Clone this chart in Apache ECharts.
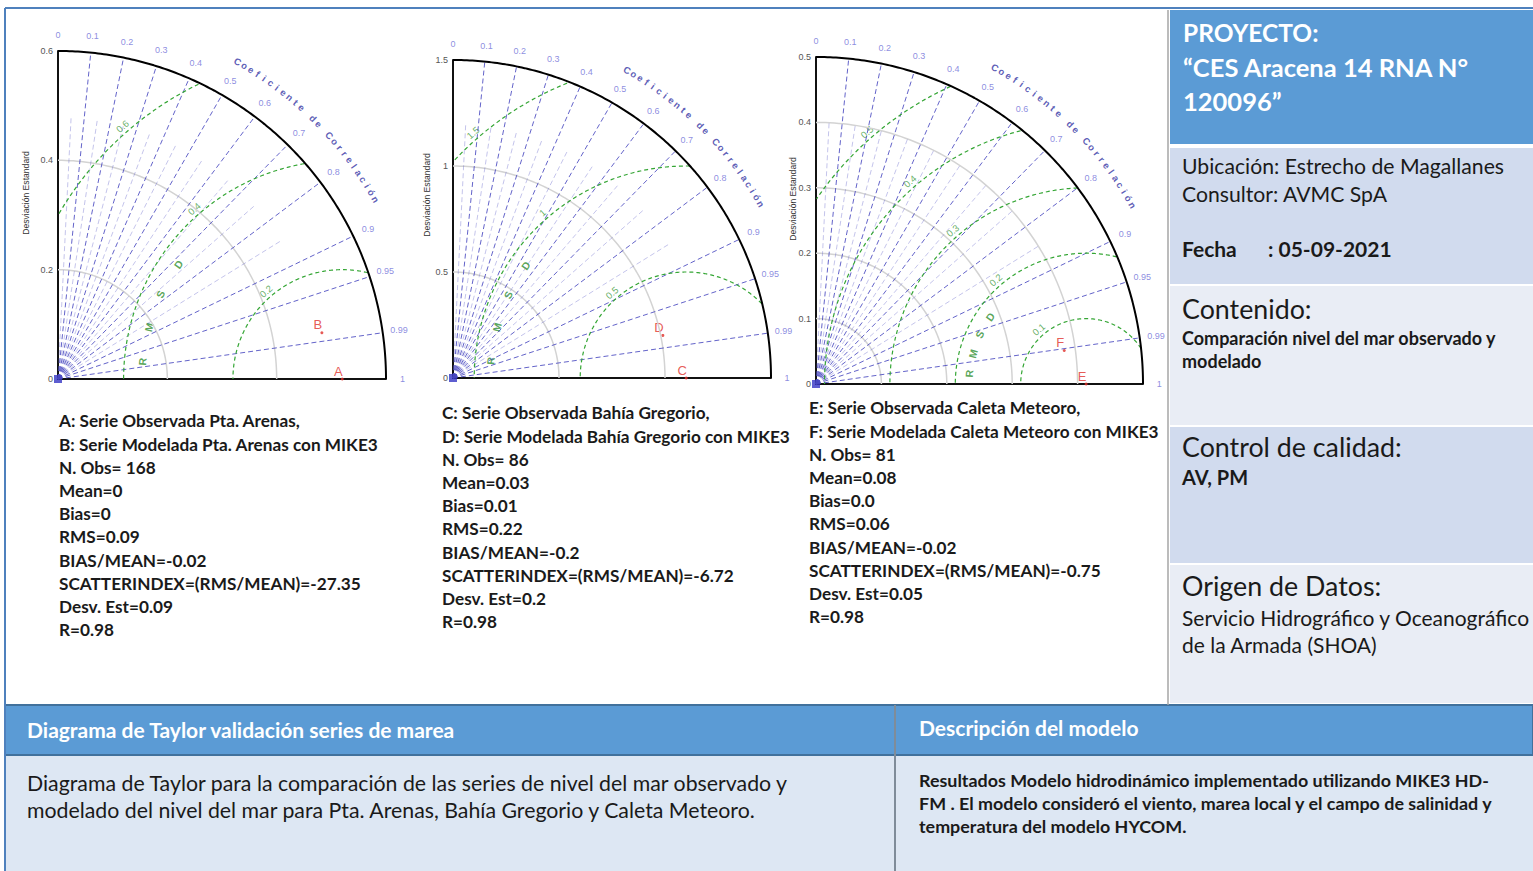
<!DOCTYPE html>
<html>
<head>
<meta charset="utf-8">
<script src="https://cdn.jsdelivr.net/npm/echarts@6/dist/echarts.min.js"></script>
<style>
  html, body { margin: 0; padding: 0; background: #fff; }
  #chart { width: 1533px; height: 871px; }
</style>
</head>
<body>
<div id="chart"></div>
<script>
// ---------- data ----------
const corrTicks = [0, 0.1, 0.2, 0.3, 0.4, 0.5, 0.6, 0.7, 0.8, 0.9, 0.95, 0.99, 1];
const corrMinor = [0.05, 0.15, 0.25, 0.35, 0.45, 0.55, 0.65, 0.75, 0.85];

// Pta. Arenas
const stdTicks1 = [0, 0.2, 0.4, 0.6];
const rmsTicks1 = [0.2, 0.4, 0.6];
const obsStd1 = 0.52;
const modStd1 = 0.49;
const modCorr1 = 0.985;
const names1 = ['A', 'B'];
const stats1 = [
  'A: Serie Observada Pta. Arenas,',
  'B: Serie Modelada Pta. Arenas con MIKE3',
  'N. Obs= 168', 'Mean=0', 'Bias=0', 'RMS=0.09', 'BIAS/MEAN=-0.02',
  'SCATTERINDEX=(RMS/MEAN)=-27.35', 'Desv. Est=0.09', 'R=0.98'
];

// Bahía Gregorio
const stdTicks2 = [0, 0.5, 1, 1.5];
const rmsTicks2 = [0.5, 1, 1.5];
const obsStd2 = 1.1;
const modStd2 = 1.01;
const modCorr2 = 0.98;
const names2 = ['C', 'D'];
const stats2 = [
  'C: Serie Observada Bahía Gregorio,',
  'D: Serie Modelada Bahía Gregorio con MIKE3',
  'N. Obs= 86', 'Mean=0.03', 'Bias=0.01', 'RMS=0.22', 'BIAS/MEAN=-0.2',
  'SCATTERINDEX=(RMS/MEAN)=-6.72', 'Desv. Est=0.2', 'R=0.98'
];

// Caleta Meteoro
const stdTicks3 = [0, 0.1, 0.2, 0.3, 0.4, 0.5];
const rmsTicks3 = [0.1, 0.2, 0.3, 0.4, 0.5];
const obsStd3 = 0.413;
const modStd3 = 0.383;
const modCorr3 = 0.991;
const names3 = ['E', 'F'];
const stats3 = [
  'E: Serie Observada Caleta Meteoro,',
  'F: Serie Modelada Caleta Meteoro con MIKE3',
  'N. Obs= 81', 'Mean=0.08', 'Bias=0.0', 'RMS=0.06', 'BIAS/MEAN=-0.02',
  'SCATTERINDEX=(RMS/MEAN)=-0.75', 'Desv. Est=0.05', 'R=0.98'
];

const corrTitle = 'Coeficiente de Correlación';
const stdTitle = 'Desviación Estandard';
const rmsdTitle = 'RMSD';

// ---------- layout ----------
const layout = [
  { left: 58,  top: 51, size: 328, rmsdFrac: 0.61,  nameX: 26,  nameY: 193, statsX: 59,  statsY: 421 },
  { left: 453, top: 60, size: 318, rmsdFrac: 0.616, nameX: 427, nameY: 195, statsX: 442, statsY: 413 },
  { left: 816, top: 57, size: 327, rmsdFrac: 0.358, nameX: 793, nameY: 199, statsX: 809, statsY: 408 }
];
const minorRayFrac = 0.8;   // minor rays stop short of the rim

const panels = [
  { stdTicks: stdTicks1, rmsTicks: rmsTicks1, obs: obsStd1, modStd: modStd1, modCorr: modCorr1, names: names1, stats: stats1 },
  { stdTicks: stdTicks2, rmsTicks: rmsTicks2, obs: obsStd2, modStd: modStd2, modCorr: modCorr2, names: names2, stats: stats2 },
  { stdTicks: stdTicks3, rmsTicks: rmsTicks3, obs: obsStd3, modStd: modStd3, modCorr: modCorr3, names: names3, stats: stats3 }
];

const DEG = Math.PI / 180;
const LBL_FONT = 'Liberation Sans';
const TXT_FONT = 'Lato';

// points of an arc around (cx, 0) between two angles (degrees)
function arc(cx, r, a0, a1, step) {
  const pts = [];
  for (let a = a0; a <= a1 + 1e-9; a += step) {
    pts.push([cx + r * Math.cos(a * DEG), r * Math.sin(a * DEG)]);
  }
  return pts;
}

const grids = [], xAxes = [], yAxes = [], series = [], graphics = [];

panels.forEach((p, i) => {
  const L = layout[i];
  const max = p.stdTicks[p.stdTicks.length - 1];
  const unit = L.size / max;             // px per data unit
  const base = { xAxisIndex: i, yAxisIndex: i, silent: true, animation: false, clip: false };
  const add = s => series.push(Object.assign({}, base, s));

  grids.push({ left: L.left, top: L.top, width: L.size, height: L.size });
  xAxes.push({
    gridIndex: i, type: 'value', min: 0, max: max,
    axisLine: { show: true, lineStyle: { color: '#111', width: 2 } },
    axisTick: { show: false }, axisLabel: { show: false }, splitLine: { show: false }
  });
  yAxes.push({
    gridIndex: i, type: 'value', min: 0, max: max, interval: p.stdTicks[1] - p.stdTicks[0],
    axisLine: { show: true, lineStyle: { color: '#111', width: 2 } },
    axisTick: { show: false }, splitLine: { show: false },
    axisLabel: { color: '#555', fontSize: 9, margin: 5, fontFamily: LBL_FONT }
  });

  // standard deviation arcs
  p.stdTicks.filter(t => t > 0 && t < max - 1e-9).forEach(t => add({
    type: 'line', data: arc(0, t, 0, 90, 1), symbol: 'none',
    lineStyle: { color: '#d3d3d3', width: 1.5 }
  }));

  // minor correlation rays
  const rm = minorRayFrac * max;
  corrMinor.forEach(c => add({
    type: 'line', data: [[0, 0], [rm * c, rm * Math.sqrt(1 - c * c)]], symbol: 'none',
    lineStyle: { color: '#5a5ac8', width: 0.8, type: [5, 3], opacity: 0.45 }
  }));

  // correlation rays
  corrTicks.filter(c => c > 0 && c < 1).forEach(c => add({
    type: 'line', data: [[0, 0], [max * c, max * Math.sqrt(1 - c * c)]], symbol: 'none',
    lineStyle: { color: '#4848c0', width: 1, type: [5, 3], opacity: 0.85 }
  }));

  // centred RMS difference arcs, kept inside the quarter disc
  p.rmsTicks.forEach(r => {
    const pts = arc(p.obs, r, 0, 180, 0.5).filter(q => q[0] >= -1e-9 && q[0] * q[0] + q[1] * q[1] <= max * max * (1 + 1e-9));
    add({ type: 'line', data: pts, symbol: 'none', lineStyle: { color: '#35a635', width: 1.2, type: [4, 3] } });
  });

  // outer boundary
  add({ type: 'line', data: arc(0, max, 0, 90, 0.5), symbol: 'none', lineStyle: { color: '#000', width: 2 } });

  // correlation tick labels
  add({
    type: 'scatter', symbolSize: 1, itemStyle: { color: 'rgba(0,0,0,0)' },
    data: corrTicks.map(c => ({ name: String(c), value: [1.05 * max * c, 1.05 * max * Math.sqrt(1 - c * c)] })),
    label: { show: true, position: 'inside', formatter: '{b}', color: '#6f6fd8', fontSize: 9, fontFamily: LBL_FONT }
  });

  // curved axis title along the rim
  const chars = corrTitle.split('');
  add({
    type: 'scatter', symbolSize: 1, itemStyle: { color: 'rgba(0,0,0,0)' },
    data: chars.map((ch, k) => {
      const a = 60.5 - k * (31 / (chars.length - 1));
      return { name: ch, value: [1.112 * max * Math.cos(a * DEG), 1.112 * max * Math.sin(a * DEG)], label: { rotate: a - 90 } };
    }),
    label: { show: true, position: 'inside', formatter: '{b}', color: '#3434a4', fontSize: 9.5, fontWeight: 'bold', fontFamily: LBL_FONT }
  });

  // RMS arc values
  const off = 7 / unit;
  add({
    type: 'scatter', symbolSize: 1, itemStyle: { color: 'rgba(0,0,0,0)' },
    data: p.rmsTicks.map(r => ({
      name: String(r),
      value: [p.obs + (r + off) * Math.cos(131 * DEG), (r + off) * Math.sin(131 * DEG)],
      label: { rotate: 41 }
    })),
    label: { show: true, position: 'inside', formatter: '{b}', color: '#3c9a3c', fontSize: 9.5, fontFamily: LBL_FONT }
  });

  // RMSD letters
  const rr = L.rmsdFrac * max;
  add({
    type: 'scatter', symbolSize: 1, itemStyle: { color: 'rgba(0,0,0,0)' },
    data: rmsdTitle.split('').map((ch, k) => {
      const a = 175 - k * 10;
      return { name: ch, value: [p.obs + rr * Math.cos(a * DEG), rr * Math.sin(a * DEG)], label: { rotate: a - 90 } };
    }),
    label: { show: true, position: 'inside', formatter: '{b}', color: '#2f8f2f', fontSize: 10.5, fontWeight: 'bold', fontFamily: LBL_FONT }
  });

  // origin marker
  add({ type: 'scatter', symbol: 'rect', symbolSize: 8, itemStyle: { color: '#3434c4' }, data: [[0, 0]] });

  // observed and modelled points
  add({
    type: 'scatter', symbol: 'circle', symbolSize: 3, itemStyle: { color: '#e0302a' },
    data: [
      { name: p.names[0], value: [p.obs, 0] },
      { name: p.names[1], value: [p.modStd * p.modCorr, p.modStd * Math.sqrt(1 - p.modCorr * p.modCorr)] }
    ],
    label: { show: true, position: 'inside', offset: [-4, -8], formatter: '{b}', color: '#e0302a', fontSize: 13, fontFamily: LBL_FONT }
  });

  // y axis title
  graphics.push({
    type: 'text', x: L.nameX, y: L.nameY, rotation: Math.PI / 2,
    style: { text: stdTitle, fill: '#333', font: '8.6px "Liberation Sans"', align: 'center', verticalAlign: 'middle' }
  });

  // statistics block
  graphics.push({
    type: 'text', x: L.statsX, y: L.statsY - 11.6,
    style: { text: p.stats.join('\n'), fill: '#1a1a1a', font: 'bold 17.2px ' + TXT_FONT, lineHeight: 23.2, align: 'left', verticalAlign: 'top' }
  });
});

// ---------- page frame and side panels ----------
function rect(x, y, w, h, fill, stroke, lw) {
  return { type: 'rect', z: -10, shape: { x, y, width: w, height: h }, style: { fill: fill || 'none', stroke: stroke || null, lineWidth: lw || 0 } };
}
function text(x, y, t, font, fill, extra) {
  return { type: 'text', x, y, style: Object.assign({ text: t, font, fill: fill || '#1a1a1a', align: 'left', verticalAlign: 'middle' }, extra || {}) };
}

const BLUE = '#5b9bd5';
graphics.push(
  rect(1170, 10, 363, 134, BLUE),
  rect(1170, 148, 363, 136, '#d1dbee'),
  rect(1170, 286, 363, 139, '#e9edf5'),
  rect(1170, 427, 363, 136, '#d1dbee'),
  rect(1170, 565, 363, 138, '#e9edf5'),
  { type: 'line', z: -5, shape: { x1: 1168, y1: 10, x2: 1168, y2: 705 }, style: { stroke: '#a6a6a6', lineWidth: 1.5 } },
  rect(5, 705, 1528, 50, BLUE, '#41719c', 2),
  rect(5, 756, 1528, 115, '#dde7f3'),
  { type: 'line', z: -5, shape: { x1: 895, y1: 705, x2: 895, y2: 871 }, style: { stroke: '#7f8c99', lineWidth: 2 } },
  { type: 'line', z: -5, shape: { x1: 5, y1: 8, x2: 1533, y2: 8 }, style: { stroke: '#4f81bd', lineWidth: 2 } },
  { type: 'line', z: -5, shape: { x1: 5, y1: 8, x2: 5, y2: 871 }, style: { stroke: '#4f81bd', lineWidth: 2 } },

  text(1183, 32, 'PROYECTO:', 'bold 24.5px ' + TXT_FONT, '#fff'),
  text(1183, 67, '“CES Aracena 14 RNA N°', 'bold 25.5px ' + TXT_FONT, '#fff'),
  text(1183, 101, '120096”', 'bold 25.5px ' + TXT_FONT, '#fff'),

  text(1182, 166, 'Ubicación: Estrecho de Magallanes', '21.2px ' + TXT_FONT),
  text(1182, 194, 'Consultor: AVMC SpA', '21.2px ' + TXT_FONT),
  text(1182, 248, 'Fecha', 'bold 21px ' + TXT_FONT),
  text(1268, 248, ': 05-09-2021', 'bold 21px ' + TXT_FONT),

  text(1182, 309, 'Contenido:', '26.8px ' + TXT_FONT),
  text(1182, 338, 'Comparación nivel del mar observado y', 'bold 18px ' + TXT_FONT),
  text(1182, 361, 'modelado', 'bold 18px ' + TXT_FONT),

  text(1182, 447, 'Control de calidad:', '26.8px ' + TXT_FONT),
  text(1182, 477, 'AV, PM', 'bold 20px ' + TXT_FONT),

  text(1182, 586, 'Origen de Datos:', '26.8px ' + TXT_FONT),
  text(1182, 617, 'Servicio Hidrográfico y Oceanográfico', '21px ' + TXT_FONT),
  text(1182, 644, 'de la Armada (SHOA)', '21px ' + TXT_FONT),

  text(27, 729, 'Diagrama de Taylor validación series de marea', 'bold 21px ' + TXT_FONT, '#fff'),
  text(919, 727, 'Descripción del modelo', 'bold 21px ' + TXT_FONT, '#fff'),

  text(27, 783, 'Diagrama de Taylor para la comparación de las series de nivel del mar observado y', '21.3px ' + TXT_FONT),
  text(27, 810, 'modelado del nivel del mar para Pta. Arenas, Bahía Gregorio y Caleta Meteoro.', '21.3px ' + TXT_FONT),

  text(919, 780, 'Resultados Modelo hidrodinámico implementado utilizando MIKE3 HD-', 'bold 17.9px ' + TXT_FONT),
  text(919, 803, 'FM . El modelo consideró el viento, marea local y el campo de salinidad y', 'bold 17.9px ' + TXT_FONT),
  text(919, 826, 'temperatura del modelo HYCOM.', 'bold 17.9px ' + TXT_FONT)
);

const chart = echarts.init(document.getElementById('chart'), null, { renderer: 'svg', width: 1533, height: 871 });
chart.setOption({
  backgroundColor: '#fff',
  animation: false,
  grid: grids,
  xAxis: xAxes,
  yAxis: yAxes,
  series: series,
  graphic: graphics
});
</script>
</body>
</html>
